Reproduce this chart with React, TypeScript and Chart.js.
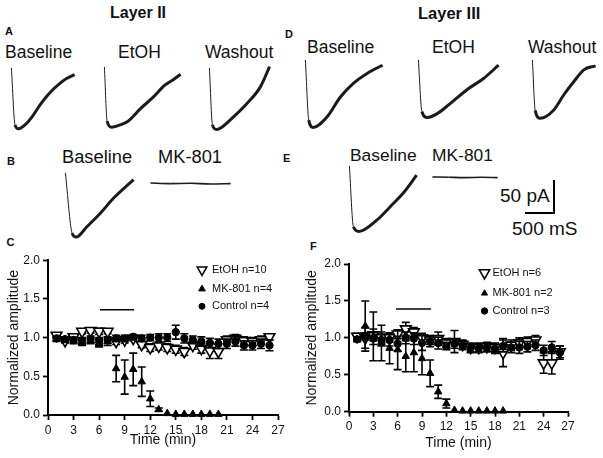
import React, { useEffect, useRef } from 'react';
import { Chart, registerables } from 'chart.js';
import { drawPoint } from 'chart.js/helpers';
Chart.register(...registerables);

const FONT = '"Liberation Sans", Arial, Helvetica, sans-serif';
const INK = '#111';

// ---------- current traces (time in ms, current in pA) ----------
const PX_PER_MS = 0.06; // 500 ms scale bar
const PX_PER_PA = 0.66; // 50 pA scale bar

const aBaselineT = [0, 60, 120, 250, 360, 470, 580, 690, 800, 920, 1055];
const aBaselineI = [0, -86, -92, -84, -72, -57, -44, -33, -24, -16, -10];
const aEtohT = [0, 45, 120, 250, 380, 600, 820, 1000, 1150, 1267];
const aEtohI = [0, -82, -91, -88, -83, -63, -45, -28, -19, -11];
const aWashT = [0, 50, 120, 200, 400, 620, 845, 1000];
const aWashI = [0, -86, -93, -90, -74, -54, -29, 2];
const dBaselineT = [0, 55, 130, 360, 580, 800, 1030, 1280];
const dBaselineI = [0, -91, -102, -86, -56, -35, -20, -8];
const dEtohT = [0, 57, 150, 300, 528, 807, 1083, 1333];
const dEtohI = [0, -78, -87, -82, -66, -45, -28, -8];
const dWashT = [0, 45, 130, 350, 517, 683, 850, 1045];
const dWashI = [0, -76, -88, -76, -53, -33, -15, -9];
const bBaselineT = [0, 112, 180, 362, 583, 805, 1138];
const bBaselineI = [0, -91, -97, -81, -61, -38, -10];
const bMkT = [0, 330, 660, 1000, 1333];
const bMkI = [0, -1, -0.5, -1.5, -1];
const eBaselineT = [0, 67, 160, 457, 678, 900, 1123];
const eBaselineI = [0, -92, -99, -82, -62, -41, -14];
const eMkT = [0, 270, 540, 810, 1083];
const eMkI = [0, -0.5, -1, -0.5, -1];

// ---------- time course data ----------
const xTicks = [0, 3, 6, 9, 12, 15, 18, 21, 24, 27];
const yTicks = [0, 0.5, 1, 1.5, 2];

const timeC = [1, 2, 3, 4, 5, 6, 7, 8, 9, 10, 11, 12, 13, 14, 15, 16, 17, 18, 19, 20, 21, 22, 23, 24, 25, 26];
const etohC = [1.03, 0.96, 1.01, 1.08, 1.09, 1.08, 1.08, 0.95, 0.97, 0.99, 0.91, 0.87, 0.89, 0.87, 0.85, 0.82, 0.9, 0.86, 0.83, 0.82, 0.97, 0.99, 0.96, 0.95, 0.97, 1.01];
const etohCErr = [0.03, 0.03, 0.03, 0.03, 0.03, 0.04, 0.03, 0.04, 0.04, 0.03, 0.04, 0.05, 0.05, 0.05, 0.05, 0.05, 0.05, 0.06, 0.1, 0.09, 0.05, 0.05, 0.05, 0.05, 0.05, 0.04];
const ctrlC = [0.99, 0.98, 0.97, 0.96, 0.98, 0.95, 0.97, 0.99, 0.99, 1.01, 0.99, 1.0, 1.0, 1.0, 1.07, 0.99, 0.97, 0.95, 0.93, 0.92, 0.92, 0.95, 0.9, 0.9, 0.92, 0.9];
const ctrlCErr = [0.03, 0.03, 0.03, 0.04, 0.04, 0.05, 0.04, 0.04, 0.04, 0.03, 0.04, 0.04, 0.05, 0.05, 0.09, 0.06, 0.05, 0.06, 0.06, 0.06, 0.06, 0.06, 0.06, 0.06, 0.06, 0.07];
const mkTimeC = [1, 2, 3, 4, 5, 6, 7, 8, 9, 10, 11, 12, 13, 14, 15, 16, 17, 18, 19, 20];
const mkC = [0.98, 0.97, 0.96, 0.94, 0.96, 0.93, 0.95, 0.6, 0.49, 0.59, 0.43, 0.21, 0.07, 0.02, 0.01, 0.01, 0.01, 0.01, 0.01, 0.01];
const mkCErr = [0.03, 0.03, 0.04, 0.04, 0.04, 0.05, 0.05, 0.17, 0.22, 0.21, 0.19, 0.1, 0.02, 0, 0, 0, 0, 0, 0, 0];
const drugC = [6.1, 10.1];
const drugLevelC = 1.36;
const legendC = ['EtOH n=10', 'MK-801 n=4', 'Control n=4'];

const timeF = [1, 2, 3, 4, 5, 6, 7, 8, 9, 10, 11, 12, 13, 14, 15, 16, 17, 18, 19, 20, 21, 22, 23, 24, 25, 26];
const etohF = [1.02, 1.0, 1.04, 1.0, 1.0, 1.05, 1.12, 1.08, 1.0, 0.97, 0.99, 0.93, 0.95, 0.91, 0.87, 0.87, 0.88, 0.87, 0.8, 0.9, 0.93, 0.95, 0.97, 0.66, 0.66, 0.81];
const etohFErr = [0.04, 0.14, 0.08, 0.08, 0.06, 0.06, 0.09, 0.06, 0.06, 0.06, 0.09, 0.06, 0.15, 0.06, 0.06, 0.06, 0.06, 0.06, 0.19, 0.07, 0.07, 0.06, 0.06, 0.14, 0.15, 0.08];
const ctrlF = [0.98, 1.02, 0.99, 0.97, 0.97, 0.92, 1.0, 0.99, 0.93, 0.95, 0.93, 0.89, 0.92, 0.9, 0.86, 0.86, 0.87, 0.85, 0.89, 0.87, 0.87, 0.88, 0.9, 0.83, 0.87, 0.8];
const ctrlFErr = [0.03, 0.05, 0.08, 0.08, 0.08, 0.1, 0.08, 0.08, 0.1, 0.07, 0.08, 0.05, 0.06, 0.06, 0.06, 0.06, 0.06, 0.06, 0.08, 0.07, 0.08, 0.07, 0.07, 0.07, 0.08, 0.09];
const mkTimeF = [1, 2, 3, 4, 5, 6, 7, 8, 9, 10, 11, 12, 13, 14, 15, 16, 17, 18, 19];
const mkF = [0.98, 1.16, 1.02, 0.93, 0.86, 0.84, 0.75, 0.8, 0.72, 0.52, 0.27, 0.11, 0.02, 0.01, 0.01, 0.01, 0.01, 0.01, 0.01];
const mkFErr = [0.03, 0.34, 0.33, 0.24, 0.21, 0.27, 0.21, 0.26, 0.22, 0.18, 0.09, 0.06, 0, 0, 0, 0, 0, 0, 0];
const drugF = [5.8, 10.1];
const drugLevelF = 1.39;
const legendF = ['EtOH n=6', 'MK-801 n=2', 'Control n=3'];

// ---------- small components ----------
function Label({ text, x, baseline, size, bold = false }: any) {
  return (
    <div
      style={{
        position: 'absolute',
        left: x,
        top: baseline - 0.8465 * size,
        fontFamily: FONT,
        fontSize: size,
        fontWeight: bold ? 'bold' : 'normal',
        lineHeight: `${size}px`,
        whiteSpace: 'nowrap',
        color: INK,
      }}
    >
      {text}
    </div>
  );
}

function Trace({ sx, sy, t, i, lw = 3, thin = 1 }: any) {
  const ref = useRef<HTMLCanvasElement>(null);
  const tMin = -40;
  const tMax = Math.max(...t) + 40;
  const iMin = -115;
  const iMax = 12;
  const w = Math.round((tMax - tMin) * PX_PER_MS);
  const h = Math.round((iMax - iMin) * PX_PER_PA);
  const left = sx + tMin * PX_PER_MS;
  const top = sy - iMax * PX_PER_PA;
  useEffect(() => {
    const chart = new Chart(ref.current as HTMLCanvasElement, {
      type: 'line',
      data: {
        datasets: [
          {
            data: t.map((x: number, k: number) => ({ x, y: i[k] })),
            borderColor: '#1b1b1b',
            borderWidth: lw,
            pointRadius: 0,
            cubicInterpolationMode: 'monotone',
            segment: {
              borderWidth: (ctx: any) => (ctx.p0DataIndex === 0 ? thin : undefined),
            },
            clip: false,
          } as any,
        ],
      },
      options: {
        animation: false,
        responsive: false,
        events: [],
        layout: { padding: 0 },
        plugins: { legend: { display: false }, tooltip: { enabled: false } },
        scales: {
          x: { type: 'linear', display: false, min: tMin, max: tMax },
          y: { type: 'linear', display: false, min: iMin, max: iMax },
        },
      },
    });
    return () => chart.destroy();
  }, []);
  return (
    <canvas
      ref={ref}
      width={w}
      height={h}
      style={{ position: 'absolute', left, top, width: w, height: h }}
    />
  );
}

const errorBarPlugin = {
  id: 'errorBars',
  beforeDatasetDraw(chart: any, args: any) {
    const ds = chart.data.datasets[args.index];
    if (!ds.errors) return;
    const { ctx } = chart;
    const xs = chart.scales.x;
    const ys = chart.scales.y;
    const cap = 4;
    ctx.save();
    ctx.strokeStyle = '#000';
    ctx.lineWidth = 1.6;
    ds.data.forEach((p: any, k: number) => {
      const e = ds.errors[k];
      if (!e) return;
      const px = xs.getPixelForValue(p.x);
      const top = ys.getPixelForValue(p.y + e);
      const bot = ys.getPixelForValue(Math.max(0, p.y - e));
      ctx.beginPath();
      ctx.moveTo(px, top);
      ctx.lineTo(px, bot);
      ctx.moveTo(px - cap, top);
      ctx.lineTo(px + cap, top);
      ctx.moveTo(px - cap, bot);
      ctx.lineTo(px + cap, bot);
      ctx.stroke();
    });
    ctx.restore();
  },
};

const customLegendPlugin = {
  id: 'customLegend',
  afterDraw(chart: any, _args: any, opts: any) {
    if (!opts || !opts.items) return;
    const { ctx } = chart;
    ctx.save();
    opts.items.forEach((label: string, k: number) => {
      const ds = chart.data.datasets[k];
      const y = opts.rows[k];
      ctx.fillStyle = ds.backgroundColor;
      ctx.strokeStyle = ds.borderColor;
      ctx.lineWidth = ds.borderWidth;
      drawPoint(
        ctx,
        {
          pointStyle: ds.pointStyle,
          rotation: ds.rotation || 0,
          radius: opts.radii[k],
          borderWidth: ds.borderWidth,
        } as any,
        opts.markerX,
        y + (ds.rotation ? -0.5 : 0)
      );
      ctx.fillStyle = INK;
      ctx.font = `${opts.fontSize}px ${FONT}`;
      ctx.textBaseline = 'middle';
      ctx.textAlign = 'left';
      ctx.fillText(label, opts.textX, y);
    });
    ctx.restore();
  },
};

function TimeCourse({ left, top, width, height, area, yTitlePad, xTitlePad, etoh, etohErr, time, mk, mkErr, mkTime, ctrl, ctrlErr, drug, drugLevel, legend }: any) {
  const ref = useRef<HTMLCanvasElement>(null);
  useEffect(() => {
    const chart = new Chart(ref.current as HTMLCanvasElement, {
      type: 'scatter',
      data: {
        datasets: [
          {
            label: legend.items[0],
            data: time.map((x: number, k: number) => ({ x, y: etoh[k] })),
            errors: etohErr,
            pointStyle: 'triangle',
            rotation: 180,
            pointRadius: 6.2,
            pointRotation: 180,
            backgroundColor: '#fff',
            borderColor: '#000',
            borderWidth: 1.6,
            pointBorderWidth: 1.6,
            order: 2,
            clip: false,
          } as any,
          {
            label: legend.items[1],
            data: mkTime.map((x: number, k: number) => ({ x, y: mk[k] })),
            errors: mkErr,
            pointStyle: 'triangle',
            pointRadius: 4.3,
            backgroundColor: '#000',
            borderColor: '#000',
            borderWidth: 1,
            order: 1,
            clip: false,
          } as any,
          {
            label: legend.items[2],
            data: time.map((x: number, k: number) => ({ x, y: ctrl[k] })),
            errors: ctrlErr,
            pointStyle: 'circle',
            pointRadius: 3.7,
            backgroundColor: '#000',
            borderColor: '#000',
            borderWidth: 1,
            order: 0,
            clip: false,
          } as any,
          {
            type: 'line',
            label: 'drug',
            data: drug.map((x: number) => ({ x, y: drugLevel })),
            showLine: true,
            borderColor: '#000',
            borderWidth: 1.6,
            pointRadius: 0,
            order: 3,
          } as any,
        ],
      },
      options: {
        animation: false,
        responsive: false,
        events: [],
        layout: { padding: { left: 0, top: area.top, right: width - area.right, bottom: 0 } },
        plugins: {
          legend: { display: false },
          tooltip: { enabled: false },
          customLegend: legend,
        } as any,
        scales: {
          x: {
            type: 'linear',
            min: 0,
            max: 27,
            afterBuildTicks: (s: any) => {
              s.ticks = xTicks.map((v) => ({ value: v }));
            },
            afterFit: (s: any) => {
              s.height = height - area.bottom;
            },
            grid: { drawOnChartArea: false, drawTicks: true, tickLength: 5, tickWidth: 1.8, tickColor: '#000', color: '#000' },
            border: { display: true, color: '#000', width: 2 },
            ticks: { color: INK, font: { family: FONT, size: 12 }, padding: 3, maxRotation: 0, autoSkip: false },
            title: { display: true, text: 'Time (min)', color: INK, font: { family: FONT, size: 14 }, padding: { top: 0, bottom: xTitlePad } },
          },
          y: {
            type: 'linear',
            min: 0,
            max: 2,
            afterBuildTicks: (s: any) => {
              s.ticks = yTicks.map((v) => ({ value: v }));
            },
            afterFit: (s: any) => {
              s.width = area.left;
            },
            grid: { drawOnChartArea: false, drawTicks: true, tickLength: 5, tickWidth: 1.8, tickColor: '#000', color: '#000' },
            border: { display: true, color: '#000', width: 2 },
            ticks: { color: INK, font: { family: FONT, size: 12 }, padding: 3, callback: (v: any) => Number(v).toFixed(1) },
            title: { display: true, text: 'Normalized amplitude', color: INK, font: { family: FONT, size: 14 }, padding: { top: yTitlePad, bottom: 0 } },
          },
        },
      },
      plugins: [errorBarPlugin, customLegendPlugin],
    });
    return () => chart.destroy();
  }, []);
  return (
    <canvas
      ref={ref}
      width={width}
      height={height}
      style={{ position: 'absolute', left, top, width, height }}
    />
  );
}

export default function App() {
  return (
    <div
      style={{
        position: 'fixed',
        left: 0,
        top: 0,
        width: 603,
        height: 458,
        background: '#fff',
        overflow: 'hidden',
      }}
    >
      <Label text="Layer II" x={110} baseline={18.5} size={16} bold />
      <Label text="Layer III" x={418} baseline={18.5} size={16.5} bold />
      <Label text="A" x={5} baseline={35.5} size={11} bold />
      <Label text="D" x={285} baseline={38.5} size={11} bold />
      <Label text="B" x={7} baseline={165.5} size={11} bold />
      <Label text="E" x={283} baseline={162} size={11} bold />
      <Label text="C" x={6.5} baseline={246.7} size={11} bold />
      <Label text="F" x={310} baseline={250.3} size={11} bold />

      <Label text="Baseline" x={5} baseline={58.5} size={17.5} />
      <Label text="EtOH" x={118} baseline={58.5} size={17.5} />
      <Label text="Washout" x={205} baseline={58.5} size={17.5} />
      <Label text="Baseline" x={307} baseline={53.5} size={17.5} />
      <Label text="EtOH" x={432} baseline={53.5} size={17.5} />
      <Label text="Washout" x={528} baseline={53.5} size={17.5} />
      <Label text="Baseline" x={62} baseline={163.5} size={18.3} />
      <Label text="MK-801" x={158} baseline={163.5} size={18.3} />
      <Label text="Baseline" x={350} baseline={162} size={17.4} />
      <Label text="MK-801" x={432} baseline={162} size={17.4} />

      <Trace sx={11.7} sy={68} t={aBaselineT} i={aBaselineI} />
      <Trace sx={104} sy={66.7} t={aEtohT} i={aEtohI} />
      <Trace sx={209.3} sy={67.7} t={aWashT} i={aWashI} />
      <Trace sx={305} sy={60} t={dBaselineT} i={dBaselineI} />
      <Trace sx={418.3} sy={60} t={dEtohT} i={dEtohI} />
      <Trace sx={532.3} sy={60} t={dWashT} i={dWashI} />
      <Trace sx={65} sy={173.3} t={bBaselineT} i={bBaselineI} />
      <Trace sx={150} sy={183} t={bMkT} i={bMkI} lw={1.6} thin={1.6} />
      <Trace sx={349.3} sy={166} t={eBaselineT} i={eBaselineI} />
      <Trace sx={432} sy={177} t={eMkT} i={eMkI} lw={1.6} thin={1.6} />

      {/* scale bar */}
      <div style={{ position: 'absolute', left: 553, top: 180, width: 2, height: 34, background: '#000' }} />
      <div style={{ position: 'absolute', left: 525, top: 212, width: 30, height: 2, background: '#000' }} />
      <Label text="50 pA" x={500} baseline={202} size={19} />
      <Label text="500 mS" x={512} baseline={235} size={19} />

      <TimeCourse
        left={0}
        top={250}
        width={300}
        height={208}
        area={{ left: 48, top: 10, right: 278, bottom: 165 }}
        yTitlePad={5.6}
        xTitlePad={9.6}
        time={timeC}
        etoh={etohC}
        etohErr={etohCErr}
        mkTime={mkTimeC}
        mk={mkC}
        mkErr={mkCErr}
        ctrl={ctrlC}
        ctrlErr={ctrlCErr}
        drug={drugC}
        drugLevel={drugLevelC}
        legend={{ items: legendC, rows: [20.3, 39, 56.3], markerX: 202, textX: 212, radii: [5.5, 3.8, 3], fontSize: 11 }}
      />
      <TimeCourse
        left={300}
        top={250}
        width={303}
        height={208}
        area={{ left: 49, top: 14, right: 268, bottom: 161.7 }}
        yTitlePad={4.1}
        xTitlePad={6.6}
        time={timeF}
        etoh={etohF}
        etohErr={etohFErr}
        mkTime={mkTimeF}
        mk={mkF}
        mkErr={mkFErr}
        ctrl={ctrlF}
        ctrlErr={ctrlFErr}
        drug={drugF}
        drugLevel={drugLevelF}
        legend={{ items: legendF, rows: [23.3, 43.3, 61], markerX: 184.5, textX: 192.5, radii: [6, 3.5, 3.2], fontSize: 11 }}
      />
    </div>
  );
}
